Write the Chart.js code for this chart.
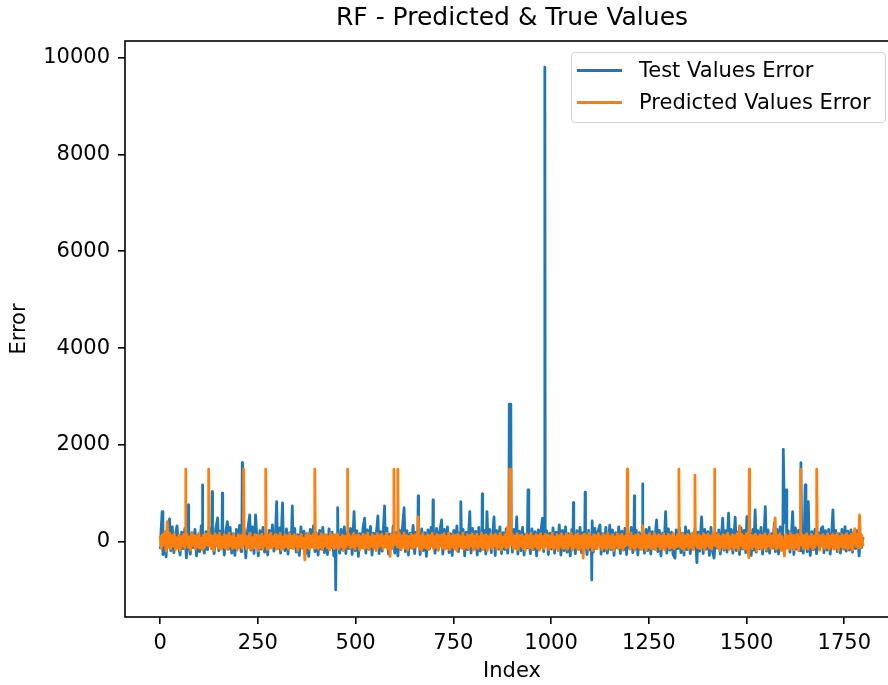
<!DOCTYPE html>
<html>
<head>
<meta charset="utf-8">
<title>RF - Predicted & True Values</title>
<script src="https://cdn.jsdelivr.net/npm/chart.js@4.4.1/dist/chart.umd.min.js"></script>
<style>
  html, body { margin: 0; padding: 0; background: #fff; overflow: hidden; }
  #wrap { position: relative; width: 888px; height: 685px; overflow: hidden; }
  #chart { position: absolute; left: 0; top: 0; }
  #legend {
    position: absolute; left: 571px; top: 52px; width: 315px; height: 71px;
    box-sizing: border-box; border: 1px solid #d4d4d4; border-radius: 4px;
    background: rgba(255, 255, 255, 0.8);
    font-family: 'DejaVu Sans', sans-serif; font-size: 21px; color: #000;
  }
  .swatch { position: absolute; left: 5px; width: 45px; height: 3px; }
  .label { position: absolute; left: 67px; height: 30px; line-height: 30px; white-space: nowrap; }
</style>
</head>
<body>
<div id="wrap">
  <canvas id="chart" width="910" height="685"></canvas>
  <div id="legend">
    <div class="swatch" style="top:16px;background:#1f77b4"></div>
    <div class="label" style="top:2px">Test Values Error</div>
    <div class="swatch" style="top:48px;background:#ff7f0e"></div>
    <div class="label" style="top:34px">Predicted Values Error</div>
  </div>
</div>
<script>
// Ejes
const xTicks = [0, 250, 500, 750, 1000, 1250, 1500, 1750];
const yTicks = [0, 2000, 4000, 6000, 8000, 10000];

// Test Values Error (azul)
const testIndex = [
  0, 2, 5, 7, 11, 15, 19, 24, 27, 31,
  35, 39, 43, 47, 51, 55, 59, 63, 67, 71,
  72, 73, 77, 81, 85, 89, 93, 97, 101, 105,
  107, 108, 109, 113, 117, 121, 125, 129, 132, 133,
  134, 138, 142, 147, 150, 154, 158, 159, 160, 164,
  168, 172, 175, 179, 183, 187, 191, 195, 199, 203,
  207, 209, 210, 211, 215, 219, 223, 229, 232, 236,
  240, 244, 247, 251, 255, 259, 263, 267, 271, 275,
  279, 283, 287, 291, 295, 298, 300, 304, 308, 313,
  315, 319, 323, 327, 331, 335, 338, 340, 344, 348,
  352, 356, 360, 364, 368, 372, 376, 380, 384, 388,
  392, 396, 400, 404, 408, 412, 416, 420, 424, 428,
  432, 436, 440, 444, 448, 449, 450, 453, 454, 455,
  459, 463, 467, 471, 475, 479, 483, 487, 491, 496,
  499, 503, 507, 511, 515, 519, 523, 526, 530, 534,
  538, 542, 546, 550, 554, 557, 560, 564, 568, 574,
  576, 580, 584, 588, 592, 596, 600, 604, 608, 612,
  616, 620, 624, 627, 631, 635, 639, 643, 647, 651,
  655, 659, 660, 661, 665, 669, 673, 677, 681, 685,
  689, 693, 697, 698, 699, 703, 707, 711, 715, 720,
  723, 727, 731, 735, 739, 743, 747, 751, 755, 759,
  763, 767, 769, 771, 775, 779, 783, 787, 792, 795,
  799, 803, 807, 811, 815, 819, 823, 824, 825, 829,
  833, 836, 839, 843, 847, 851, 854, 857, 861, 865,
  869, 873, 877, 881, 885, 889, 892, 893, 897, 898,
  901, 905, 909, 912, 915, 919, 923, 927, 931, 935,
  939, 941, 943, 947, 951, 955, 959, 963, 967, 971,
  975, 978, 981, 983, 984, 985, 989, 993, 997, 1001,
  1005, 1009, 1013, 1017, 1021, 1025, 1029, 1033, 1037, 1041,
  1045, 1049, 1053, 1056, 1057, 1058, 1062, 1066, 1070, 1074,
  1078, 1082, 1086, 1087, 1088, 1092, 1096, 1100, 1103, 1104,
  1105, 1108, 1112, 1116, 1120, 1125, 1128, 1132, 1136, 1140,
  1144, 1150, 1153, 1157, 1161, 1165, 1169, 1173, 1177, 1181,
  1185, 1189, 1193, 1197, 1201, 1205, 1209, 1212, 1213, 1214,
  1218, 1222, 1226, 1230, 1233, 1234, 1235, 1239, 1243, 1247,
  1251, 1255, 1259, 1263, 1270, 1273, 1277, 1281, 1285, 1289,
  1293, 1296, 1300, 1304, 1308, 1312, 1317, 1320, 1324, 1328,
  1332, 1336, 1340, 1344, 1348, 1352, 1356, 1360, 1364, 1368,
  1373, 1376, 1380, 1385, 1389, 1393, 1397, 1401, 1405, 1409,
  1413, 1417, 1421, 1425, 1429, 1433, 1439, 1442, 1446, 1450,
  1454, 1457, 1461, 1465, 1471, 1474, 1478, 1482, 1486, 1490,
  1494, 1498, 1501, 1504, 1508, 1512, 1516, 1519, 1522, 1525,
  1529, 1533, 1537, 1541, 1545, 1548, 1551, 1555, 1559, 1563,
  1567, 1571, 1574, 1578, 1582, 1586, 1590, 1593, 1594, 1597,
  1601, 1603, 1607, 1611, 1615, 1618, 1621, 1625, 1629, 1633,
  1637, 1639, 1641, 1645, 1648, 1650, 1652, 1655, 1658, 1660,
  1663, 1667, 1671, 1675, 1679, 1683, 1687, 1691, 1695, 1698,
  1702, 1706, 1710, 1714, 1718, 1721, 1724, 1728, 1732, 1736,
  1740, 1744, 1748, 1752, 1755, 1759, 1763, 1767, 1771, 1775,
  1779, 1783, 1788, 1791, 1794, 1798
];
const testError = [
  -120, 180, 625, -260, 90, -310, 240, 474, -180, 310,
  -220, 150, 330, -90, -270, 200, -140, 280, -330, 120,
  763, 40, -250, 190, -120, 260, -290, 140, -200, 330,
  60, 1175, -80, -230, 210, -160, 290, -60, 180, 1037,
  80, -240, 260, 495, -180, 220, -90, 1004, 120, -270,
  230, 419, -150, 300, -230, 170, -280, 260, -120, 340,
  -200, 150, 1635, -60, 270, -330, 190, 557, -170, 310,
  -240, 557, 120, -290, 230, -150, 300, -210, 160, -270,
  240, -110, 350, -190, 180, 831, -140, 290, -230, 804,
  60, -180, 270, -250, 190, -120, 742, -60, 280, -210,
  150, -280, 310, -130, 220, -240, 170, -300, 260, -100,
  330, -200, 180, -270, 240, -150, 300, -220, 140, -260,
  270, -120, 200, -290, -100, -990, -60, 120, 707, 80,
  -230, 260, -170, 310, -240, 190, -140, 280, -260, 625,
  -180, 230, -300, 170, -120, 300, 489, -230, 250, -150,
  320, -270, 180, -110, 260, 536, -240, 210, -190, 742,
  -80, 290, -250, 160, -140, 330, -230, 200, -290, 250,
  -160, 310, 707, -200, 230, -270, 180, -120, 340, -240,
  200, -60, 948, 120, -260, 270, -180, 190, -300, 250,
  -140, 300, -60, 866, 100, -230, 280, -170, 210, 454,
  -250, 260, -130, 310, -220, 170, -280, 240, -150, 330,
  -200, 190, 831, -120, 260, -290, 200, -160, 625, -230,
  280, -140, 220, -270, 300, -190, 150, 990, -60, 240,
  -250, 625, -100, 260, -220, 180, 515, -280, 230, -150,
  310, -240, 190, -160, 270, -230, 200, 2846, 2846, 150,
  -210, 260, -130, 515, -250, 220, -180, 300, -270, 160,
  -120, 1072, 90, -240, 270, -160, 210, -290, 250, -140,
  300, 489, -200, 60, 9800, -40, 230, -260, 180, -150,
  290, -230, 200, -120, 350, -270, 240, -180, 310, -210,
  170, -290, 260, -60, 810, 80, -240, 230, -150, 300,
  -220, 190, -100, 1025, 60, -260, 240, -170, 120, -784,
  433, -210, 280, -140, 210, 350, -250, 170, -190, 300,
  -230, 344, -160, 250, -280, 190, -120, 310, -240, 220,
  -170, 280, -260, 160, -130, 300, -220, 100, 948, -60,
  240, -270, 190, -150, 120, 1196, 40, -230, 260, -180,
  300, -250, 210, -140, 454, -200, 240, -290, 180, -120,
  625, -230, 270, -170, 200, -260, -336, 250, -140, 290,
  -220, 180, -270, 310, -160, 230, -240, 170, -130, 280,
  -427, 200, -190, 515, -240, 260, -150, 210, -280, 300,
  -200, -336, 180, -130, 250, -250, 489, -170, 230, -210,
  592, -140, 260, -230, 509, -180, 200, -260, 290, -150,
  240, -220, 522, -120, 190, -280, 260, -170, 660, -210,
  230, -140, 300, -250, 180, 728, -190, 250, -230, 170,
  -130, 386, -200, 260, -250, 310, -170, 200, 1911, 400,
  1072, -100, 230, -210, 180, 625, -260, 290, -150, 240,
  -180, 1635, 120, -230, 300, 1175, 100, -200, 831, 40,
  -280, 210, -160, 260, -240, 190, -130, 280, 315, -220,
  230, -170, 260, -250, 190, 660, -140, 240, -200, 170,
  -230, 260, -150, 315, -190, 220, -170, 250, -210, 190,
  -140, 230, -289, 170, -120, 80
];

// Predicted Values Error (naranja)
const predIndex = [
  0, 3, 6, 9, 12, 15, 18, 21, 24, 27,
  30, 33, 36, 39, 42, 45, 48, 51, 54, 57,
  60, 63, 64, 65, 66, 69, 72, 75, 78, 81,
  84, 87, 90, 93, 96, 99, 102, 105, 108, 111,
  114, 117, 120, 123, 124, 125, 128, 131, 134, 137,
  140, 143, 146, 149, 152, 155, 158, 161, 164, 167,
  170, 173, 176, 179, 182, 185, 188, 191, 194, 197,
  200, 203, 206, 209, 212, 213, 214, 215, 218, 221,
  224, 227, 230, 233, 236, 239, 242, 245, 248, 251,
  254, 257, 260, 263, 266, 269, 270, 271, 274, 277,
  280, 283, 286, 289, 292, 295, 298, 301, 304, 307,
  310, 313, 316, 319, 322, 325, 328, 331, 334, 337,
  340, 343, 346, 349, 352, 355, 358, 361, 364, 367,
  370, 373, 376, 379, 382, 385, 388, 391, 394, 395,
  396, 397, 400, 403, 406, 409, 412, 415, 418, 421,
  424, 427, 430, 433, 436, 439, 442, 445, 448, 451,
  454, 457, 460, 463, 466, 469, 472, 475, 478, 479,
  480, 483, 486, 489, 492, 495, 498, 501, 504, 507,
  510, 513, 516, 519, 522, 525, 528, 531, 534, 537,
  540, 543, 546, 549, 552, 555, 558, 561, 564, 567,
  570, 573, 576, 579, 582, 585, 588, 591, 594, 597,
  598, 599, 603, 607, 608, 609, 612, 615, 618, 621,
  624, 627, 630, 633, 636, 639, 642, 645, 648, 651,
  654, 657, 660, 663, 666, 669, 672, 675, 678, 681,
  684, 687, 690, 693, 696, 699, 702, 705, 708, 711,
  714, 717, 720, 723, 726, 729, 732, 735, 738, 741,
  744, 747, 750, 753, 756, 759, 762, 765, 768, 771,
  774, 777, 780, 783, 786, 789, 792, 795, 798, 801,
  804, 807, 810, 813, 816, 819, 822, 825, 828, 831,
  834, 837, 840, 843, 846, 849, 852, 855, 858, 861,
  864, 867, 870, 873, 876, 879, 882, 885, 888, 891,
  893, 894, 897, 898, 901, 904, 907, 910, 913, 916,
  919, 922, 925, 928, 931, 934, 937, 940, 943, 946,
  949, 952, 955, 958, 961, 964, 967, 970, 973, 976,
  979, 982, 985, 988, 991, 994, 997, 1000, 1003, 1006,
  1009, 1012, 1015, 1018, 1021, 1024, 1027, 1030, 1033, 1036,
  1039, 1042, 1045, 1048, 1051, 1054, 1057, 1060, 1063, 1066,
  1069, 1072, 1075, 1078, 1081, 1082, 1085, 1088, 1091, 1094,
  1097, 1100, 1103, 1106, 1109, 1112, 1115, 1118, 1121, 1124,
  1127, 1130, 1133, 1136, 1139, 1142, 1145, 1148, 1151, 1154,
  1157, 1160, 1163, 1166, 1169, 1172, 1175, 1178, 1181, 1184,
  1187, 1190, 1193, 1194, 1195, 1196, 1199, 1202, 1205, 1208,
  1211, 1214, 1217, 1220, 1223, 1226, 1229, 1232, 1234, 1237,
  1240, 1243, 1246, 1249, 1252, 1255, 1258, 1261, 1264, 1267,
  1270, 1273, 1276, 1279, 1282, 1285, 1288, 1291, 1294, 1297,
  1300, 1303, 1306, 1309, 1312, 1315, 1318, 1321, 1324, 1326,
  1327, 1328, 1331, 1334, 1337, 1340, 1343, 1346, 1349, 1352,
  1355, 1358, 1361, 1364, 1366, 1368, 1369, 1372, 1375, 1378,
  1381, 1384, 1387, 1390, 1393, 1396, 1399, 1402, 1405, 1408,
  1411, 1414, 1417, 1418, 1419, 1422, 1425, 1428, 1431, 1434,
  1437, 1440, 1443, 1446, 1449, 1452, 1455, 1458, 1461, 1464,
  1467, 1470, 1473, 1476, 1479, 1482, 1485, 1488, 1491, 1494,
  1497, 1500, 1503, 1506, 1507, 1508, 1511, 1514, 1517, 1520,
  1523, 1526, 1529, 1532, 1535, 1538, 1541, 1544, 1547, 1550,
  1553, 1556, 1559, 1562, 1565, 1568, 1571, 1573, 1576, 1579,
  1582, 1585, 1588, 1591, 1594, 1597, 1600, 1603, 1606, 1609,
  1612, 1615, 1618, 1621, 1624, 1627, 1630, 1633, 1636, 1637,
  1638, 1639, 1642, 1645, 1648, 1651, 1654, 1657, 1660, 1663,
  1666, 1669, 1672, 1675, 1678, 1679, 1680, 1681, 1684, 1687,
  1690, 1693, 1696, 1699, 1702, 1705, 1708, 1711, 1714, 1717,
  1720, 1723, 1726, 1729, 1732, 1735, 1738, 1741, 1744, 1747,
  1750, 1753, 1756, 1759, 1762, 1765, 1768, 1771, 1774, 1777,
  1780, 1783, 1786, 1789, 1792, 1795, 1798
];
const predError = [
  110, -130, 150, -60, 210, -190, 419, -110, 180, -140,
  130, -80, 170, -160, 90, -120, 140, -180, 110, -80,
  160, -130, 100, 1500, -60, 150, -110, 100, -170, 180,
  -70, 130, -150, 120, -100, 180, -130, 80, -160, 140,
  -110, 160, -60, 110, 1500, -80, 150, -140, 120, -180,
  170, -80, 130, -120, 180, -150, 100, -100, 150, -130,
  130, -160, 180, -80, 110, -140, 160, -110, 80, -170,
  150, -90, 130, -130, 170, 80, 1500, -50, 130, -150,
  110, -110, 180, -150, 90, -130, 150, -80, 140, -180,
  120, -110, 160, -140, 110, -70, 1500, 60, -160, 140,
  -100, 180, -130, 110, -80, 160, -150, 130, -110, 180,
  -170, 100, -120, 150, -90, 130, -150, 170, -110, 120,
  -140, 150, -80, 130, -180, 110, -100, 160, -130, 80,
  -371, 140, -110, 180, -150, 120, -90, 150, -130, 100,
  1500, -40, 160, -140, 110, -110, 170, -160, 130, -80,
  150, -120, 110, -170, 180, -100, 130, -140, 150, -110,
  160, -150, 100, -90, 140, -180, 120, -110, 80, 1500,
  -60, 160, -130, 110, -100, 180, -150, 130, -80, 150,
  -170, 110, -120, 160, -140, 130, -110, 180, -160, 100,
  -90, 150, -130, 120, -180, 170, -110, 130, -80, 160,
  -150, 110, -100, 180, -140, 110, -300, 150, -120, 80,
  1500, -60, 140, -100, 1500, -100, 170, -150, 120, -110,
  180, -130, 130, -170, 110, -90, 160, -140, 130, -110,
  150, -80, 517, -150, 120, -180, 170, -100, 110, -130,
  150, -160, 130, -90, 180, -140, 110, -110, 160, -170,
  130, -80, 140, -130, 170, -150, 110, -110, 180, -160,
  120, -100, 150, -140, 130, -180, 160, -90, 110, -130,
  180, -150, 100, -110, 150, -150, 130, -80, 170, -170,
  120, -110, 160, -140, 110, -90, 180, -160, 130, -120,
  150, -180, 110, -100, 170, -140, 130, -80, 160, -150,
  120, -110, 180, -170, 100, -90, 150, -130, 300, -110,
  200, 1500, 1500, -60, 150, -150, 120, -110, 170, -160,
  130, -80, 150, -140, 110, -180, 160, -100, 130, -120,
  180, -150, 110, -90, 150, -130, 130, -170, 170, -110,
  110, -140, 160, -80, 140, -160, 120, -110, 180, -150,
  100, -100, 150, -180, 130, -90, 170, -140, 110, -120,
  160, -150, 130, -80, 180, -170, 110, -110, 150, -130,
  170, -160, 120, -100, 140, -336, 160, -110, 130, -150,
  180, -90, 110, -180, 150, -120, 130, -140, 170, -80,
  110, -160, 160, -110, 130, -150, 180, -100, 120, -130,
  150, -180, 100, -90, 170, -140, 130, -110, 160, -160,
  110, -80, 150, 80, 1500, -50, 130, -150, 180, -110,
  120, -170, 140, -90, 160, -130, 110, -150, 331, -110,
  150, -180, 130, -100, 170, -140, 110, -120, 180, -160,
  130, -80, 150, -150, 120, -110, 170, -170, 110, -90,
  160, -140, 130, -110, 180, -150, 100, -100, 150, 80,
  1500, -90, 140, -130, 170, -180, 120, -90, 160, -150,
  130, -110, 180, -160, 120, 1380, -60, 130, -120, 150,
  -140, 110, -100, 170, -170, 130, -80, 160, -130, 120,
  -150, 180, 90, 1500, -70, 140, -110, 160, -180, 110,
  -90, 150, -140, 130, -120, 180, -160, 110, -100, 150,
  -150, 130, -110, 170, -170, 331, -80, 160, -130, 120,
  -150, 180, -110, -325, 1500, -80, 140, -140, 130, -90,
  160, -180, 110, -120, 150, -150, 130, -100, 170, -160,
  110, -80, 160, -140, 120, -110, 180, 497, -150, 130,
  -110, 170, -170, 110, -90, -290, 150, -130, 120, -150,
  180, -100, 140, -160, 130, -110, 160, -180, 110, 60,
  1500, -60, 150, -140, 130, -120, 170, -150, 110, -90,
  160, -150, 120, -110, 180, 80, 1500, -50, 140, -170,
  130, -80, 150, -140, 110, -110, 170, -160, 120, -100,
  160, -150, 130, -120, 180, -180, 110, -90, 150, -140,
  130, -110, 170, -150, 120, -110, 160, -170, 140, 276,
  -90, 150, -130, 559, -110, 130, -60
];

const testPoints = testIndex.map((x, i) => ({ x: x, y: testError[i] }));
const predPoints = predIndex.map((x, i) => ({ x: x, y: predError[i] }));

Chart.defaults.font.family = "'DejaVu Sans', sans-serif";
Chart.defaults.color = '#000';

// marco completo del área de trazado (estilo matplotlib)
const framePlugin = {
    id: 'frame',
    afterDatasetsDraw(chart) {
        const { ctx, chartArea: a } = chart;
        ctx.save();
        ctx.strokeStyle = '#000';
        ctx.lineWidth = 1.6;
        ctx.strokeRect(a.left, a.top, a.right - a.left, a.bottom - a.top);
        ctx.restore();
    }
};

const tickGrid = { drawOnChartArea: false, drawTicks: true, tickLength: 7, color: '#000', lineWidth: 1.6 };
const plainLabel = v => String(v); // sin separador de miles

new Chart(document.getElementById('chart'), {
    type: 'line',
    data: {
        datasets: [
            {
                label: 'Test Values Error',
                data: testPoints,
                borderColor: '#1f77b4',
                borderWidth: 2.8,
                borderJoinStyle: 'round',
                borderCapStyle: 'round',
                pointRadius: 0,
                tension: 0,
                order: 1
            },
            {
                label: 'Predicted Values Error',
                data: predPoints,
                borderColor: '#ff7f0e',
                borderWidth: 2.8,
                borderJoinStyle: 'round',
                borderCapStyle: 'round',
                pointRadius: 0,
                tension: 0,
                order: 0
            }
        ]
    },
    options: {
        responsive: false,
        animation: false,
        parsing: false,
        layout: { padding: { left: 0, right: 11, top: 0, bottom: 0 } },
        plugins: {
            legend: { display: false },
            tooltip: { enabled: false },
            title: {
                display: true,
                text: 'RF - Predicted & True Values',
                fullSize: false,
                color: '#000',
                font: { size: 25, weight: 'normal' },
                padding: { top: 3, bottom: 8 }
            }
        },
        scales: {
            x: {
                type: 'linear',
                min: -90,
                max: 1890,
                afterBuildTicks: s => { s.ticks = xTicks.map(v => ({ value: v })); },
                afterFit: s => { s.height = 68; },
                grid: tickGrid,
                border: { display: false },
                ticks: { font: { size: 21 }, padding: 7, maxRotation: 0, color: '#000', callback: plainLabel },
                title: { display: true, text: 'Index', font: { size: 21 }, color: '#000', padding: { top: 0, bottom: 1 } }
            },
            y: {
                type: 'linear',
                min: -1550,
                max: 10340,
                afterBuildTicks: s => { s.ticks = yTicks.map(v => ({ value: v })); },
                afterFit: s => { s.width = 125; },
                grid: tickGrid,
                border: { display: false },
                ticks: { font: { size: 21 }, padding: 8, color: '#000', callback: plainLabel },
                title: { display: true, text: 'Error', font: { size: 21 }, color: '#000', padding: { top: 7, bottom: 0 } }
            }
        }
    },
    plugins: [framePlugin]
});
</script>
</body>
</html>
